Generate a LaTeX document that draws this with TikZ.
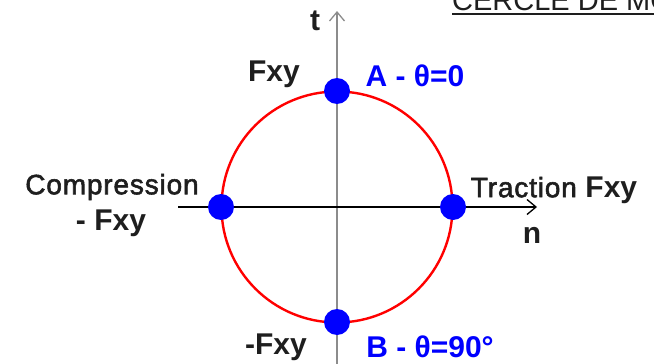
\documentclass[tikz,border=0pt]{standalone}
\usepackage{fontspec}
\setmainfont{Liberation Sans}
\newfontfamily\semib[FakeBold=2,LetterSpace=3]{Liberation Sans}
\usetikzlibrary{arrows.meta}
\definecolor{axgray}{RGB}{140,140,140}
\definecolor{txt}{RGB}{30,30,30}
\definecolor{ptblue}{RGB}{0,0,255}
\begin{document}
\begin{tikzpicture}[x=1pt,y=-1pt,
  lbl/.style={inner sep=0pt,text=txt,font=\fontsize{30}{32}\selectfont\bfseries},
  lblr/.style={inner sep=0pt,text=txt,font=\fontsize{28}{30}\selectfont\semib},
  blbl/.style={inner sep=0pt,text=ptblue,font=\fontsize{30}{32}\selectfont\bfseries},
  pt/.style={circle,fill=ptblue,minimum size=26pt,inner sep=0pt},
  axis/.style={line width=2pt,-{Straight Barb[length=9pt,width=15pt,line width=1.3pt]}}]
\useasboundingbox (0,0) rectangle (654,364);
\begin{scope}
\clip (0,0) rectangle (654,364);
% title
\node[anchor=base west,inner sep=0pt,text=txt,font=\fontsize{29}{30}\selectfont] (title) at (452,10) {CERCLE DE MOHR};
\draw[txt,line width=1.8pt] (title.base west) ++(0,4) coordinate (ul1) -- ++(230,0) coordinate (ul2);
% axes
\coordinate (vbot) at (337,370);
\coordinate (vtop) at (337,11);
\draw[axis,axgray] (vbot) -- (vtop);
\coordinate (hl) at (178,207);
\coordinate (hr) at (537,207);
\draw[axis,black,line width=1.4pt] (hl) -- (hr);
% circle
\coordinate (O) at (337,207);
\draw[red,line width=2.4pt] (O) circle[radius=115.5];
% points
\node[pt] (A) at (337,91) {};
\node[pt] (B) at (337,322) {};
\node[pt] (C) at (221,207) {};
\node[pt] (T) at (453,207) {};
\end{scope}
% labels
\node[lbl] (lt) at (315,21) {t};
\node[lbl] (lF) at (274,74) {Fxy};
\node[blbl] (lA) at (415,76) {A - θ=0};
\node[lblr] (lC) at (112,187) {Compression};
\node[lbl] (lmF) at (111,223) {- Fxy};
\node[lblr] (lTr) at (554,190) {Traction {\fontsize{30}{32}\selectfont\normalfont\bfseries Fxy}};
\node[lbl] (ln) at (532,235) {n};
\node[lbl] (lmF2) at (276,347) {-Fxy};
\node[blbl] (lB) at (430,347) {B - θ=90°};
\end{tikzpicture}
\end{document}
